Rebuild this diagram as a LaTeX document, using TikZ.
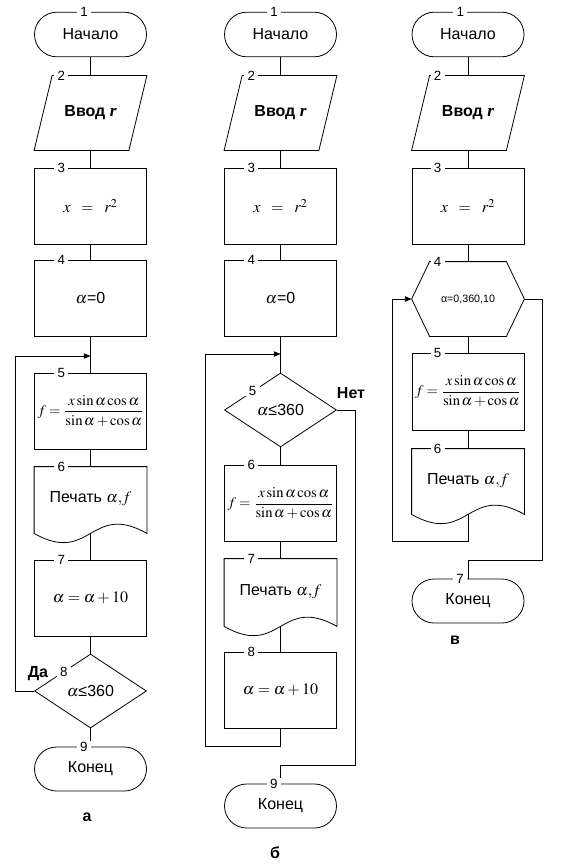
\documentclass[tikz,border=0pt]{standalone}
\usepackage{mathptmx}
\usepackage[no-math]{fontspec}
\setmainfont{Liberation Sans}
\newfontfamily\serifr{Liberation Serif}
\usetikzlibrary{shapes.geometric,shapes.misc,arrows.meta,calc}
\newcommand\parashape[1]{\draw ([xshift=13.5pt]#1.north west) -- (#1.north east) -- ([xshift=-13.5pt]#1.south east) -- (#1.south west) -- cycle;}
\newcommand\docshape[1]{\draw (#1.south west) -- (#1.north west) -- (#1.north east) -- (#1.south east) .. controls ($(#1.south)+(0,24pt)$) and ($(#1.south)+(0,-24pt)$) .. (#1.south west);}
\newcommand\hexshape[1]{\draw (#1.west) -- ([xshift=13.5pt]#1.north west) -- ([xshift=-13.5pt]#1.north east) -- (#1.east) -- ([xshift=-13.5pt]#1.south east) -- ([xshift=13.5pt]#1.south west) -- cycle;}
\newcommand\fracf{$f=\displaystyle\frac{x\sin\alpha\cos\alpha}{\sin\alpha+\cos\alpha}$}
\newcommand\vvod{\bfseries Ввод {\serifr\bfseries\itshape\fontsize{13}{14}\selectfont r}}
\newcommand\pechat{\raisebox{4pt}{Печать $\alpha{,}f$}}
\begin{document}
\begin{tikzpicture}[x=0.75pt,y=-0.75pt, line width=0.6pt,
  base/.style={font=\fontsize{12}{14}\selectfont, inner sep=0pt, align=center},
  proc/.style={base, draw, rectangle, minimum width=84pt, minimum height=57pt},
  term/.style={base, draw, rounded rectangle, minimum width=84pt, minimum height=33.5pt},
  dec/.style={base, draw, diamond, minimum width=84pt, minimum height=55.5pt},
  ghost/.style={base, rectangle, minimum width=84pt},
  fr/.style={font=\fontsize{11}{13}\selectfont},
  num/.style={fill=white, font=\fontsize{10}{11}\selectfont, inner xsep=2.5pt, inner ysep=0.5pt},
  lbl/.style={font=\bfseries\fontsize{12}{14}\selectfont},
  arr/.style={-{Triangle[length=5pt,width=4pt]}}
]
\fill[white] (0,0) rectangle (565,867);
\useasboundingbox (0,0) rectangle (565,867);

% ---------- column a ----------
\node[term] (a1) at (90.5,34.5) {Начало};
\node[ghost, minimum height=55.5pt] (a2) at (90.5,113) {\vvod};
\parashape{a2}
\node[proc] (a3) at (90.5,206) {$x\;\;=\;\;r^{2}$};
\node[proc] (a4) at (90.5,298) {$\alpha$=0};
\coordinate (aj) at (90.5,356);
\coordinate (aL) at (15.7,356);
\node[proc, fr] (a5) at (90.5,411) {\fracf};
\node[ghost, minimum height=49.5pt] (a6) at (90.5,500) {\pechat};
\docshape{a6}
\node[proc] (a7) at (90.5,598) {$\alpha=\alpha+10$};
\node[dec] (a8) at (90.5,691) {$\alpha$≤360};
\node[term, minimum height=33pt] (a9) at (90.5,769) {Конец};

\draw (a1.south) -- (a2.north);
\draw (a2.south) -- (a3.north);
\draw (a3.south) -- (a4.north);
\draw (a4.south) -- (a5.north);
\draw (a5.south) -- (a6.north);
\draw (a6.south) -- (a7.north);
\draw (a7.south) -- (a8.north);
\draw (a8.south) -- (a9.north);
\draw[arr] (a8.west) -| (aL) -- (aj);

\node[num] (a1n) at ([xshift=20.5pt]a1.north west) {1};
\node[num] (a2n) at ([xshift=20.5pt]a2.north west) {2};
\node[num] (a3n) at ([xshift=20.5pt]a3.north west) {3};
\node[num] (a4n) at ([xshift=20.5pt]a4.north west) {4};
\node[num] (a5n) at ([xshift=20.5pt]a5.north west) {5};
\node[num] (a6n) at ([xshift=20.5pt]a6.north west) {6};
\node[num] (a7n) at ([xshift=20.5pt]a7.north west) {7};
\node[num] (a8n) at ($(a8.center)+(-20pt,14.25pt)$) {8};
\node[num] (a9n) at ([xshift=20.5pt]a9.north west) {9};
\node[lbl] (da) at (38,674) {Да};
\node[lbl] (la) at (87,817) {а};

% ---------- column b ----------
\node[term] (b1) at (280.5,34.5) {Начало};
\node[ghost, minimum height=55.5pt] (b2) at (280.5,113) {\vvod};
\parashape{b2}
\node[proc] (b3) at (280.5,206) {$x\;\;=\;\;r^{2}$};
\node[proc] (b4) at (280.5,298) {$\alpha$=0};
\coordinate (bj) at (280.5,354);
\node[dec] (b5) at (280.5,410) {$\alpha$≤360};
\node[proc, fr] (b6) at (280.5,503.5) {\fracf};
\node[ghost, minimum height=50.25pt] (b7) at (280.5,592.5) {\pechat};
\docshape{b7}
\node[proc] (b8) at (280.5,690) {$\alpha=\alpha+10$};
\node[term, minimum height=33pt] (b9) at (280.5,806) {Конец};
\coordinate (bR) at (355,765);
\coordinate (bBL) at (205.7,746);

\draw (b1.south) -- (b2.north);
\draw (b2.south) -- (b3.north);
\draw (b3.south) -- (b4.north);
\draw (b4.south) -- (b5.north);
\draw (b5.south) -- (b6.north);
\draw (b6.south) -- (b7.north);
\draw (b7.south) -- (b8.north);
\draw (b5.east) -| (bR) -| (b9.north);
\draw[arr] (b8.south) |- (bBL) |- (bj);

\node[num] (b1n) at ([xshift=20.5pt]b1.north west) {1};
\node[num] (b2n) at ([xshift=20.5pt]b2.north west) {2};
\node[num] (b3n) at ([xshift=20.5pt]b3.north west) {3};
\node[num] (b4n) at ([xshift=20.5pt]b4.north west) {4};
\node[num] (b5n) at ($(b5.center)+(-21pt,14.25pt)$) {5};
\node[num] (b6n) at ([xshift=20.5pt]b6.north west) {6};
\node[num] (b7n) at ([xshift=20.5pt]b7.north west) {7};
\node[num] (b8n) at ([xshift=20.5pt]b8.north west) {8};
\node[num] (b9n) at ([xshift=20.5pt]b9.north west) {9};
\node[lbl] (net) at (351,393) {Нет};
\node[lbl] (lb) at (275,853) {б};

% ---------- column c ----------
\node[term] (c1) at (468,34.5) {Начало};
\node[ghost, minimum height=55.5pt] (c2) at (468,113) {\vvod};
\parashape{c2}
\node[proc] (c3) at (468,206) {$x\;\;=\;\;r^{2}$};
\node[ghost, minimum height=55.5pt, font=\fontsize{8}{9}\selectfont] (c4) at (468,299) {α=0,360,10};
\hexshape{c4}
\node[proc, fr, minimum height=57.75pt] (c5) at (468,391.5) {\fracf};
\node[ghost, minimum height=48.75pt] (c6) at (468,481.5) {\pechat};
\docshape{c6}
\node[term, minimum height=33pt] (c7) at (468,601) {Конец};
\coordinate (cBL) at (392,541);
\coordinate (cR) at (542,560);

\draw (c1.south) -- (c2.north);
\draw (c2.south) -- (c3.north);
\draw (c3.south) -- (c4.north);
\draw (c4.south) -- (c5.north);
\draw (c5.south) -- (c6.north);
\draw[arr] (c6.south) |- (cBL) |- (c4.west);
\draw (c4.east) -| (cR) -| (c7.north);

\node[num] (c1n) at ([xshift=19.5pt]c1.north west) {1};
\node[num] (c2n) at ([xshift=19.5pt]c2.north west) {2};
\node[num] (c3n) at ([xshift=19.5pt]c3.north west) {3};
\node[num] (c4n) at ([xshift=19.5pt]c4.north west) {4};
\node[num] (c5n) at ([xshift=19.5pt]c5.north west) {5};
\node[num] (c6n) at ([xshift=19.5pt]c6.north west) {6};
\node[num] (c7n) at ([xshift=19.5pt]c7.north west) {7};
\node[lbl] (lv) at (455,640) {в};
\end{tikzpicture}
\end{document}
